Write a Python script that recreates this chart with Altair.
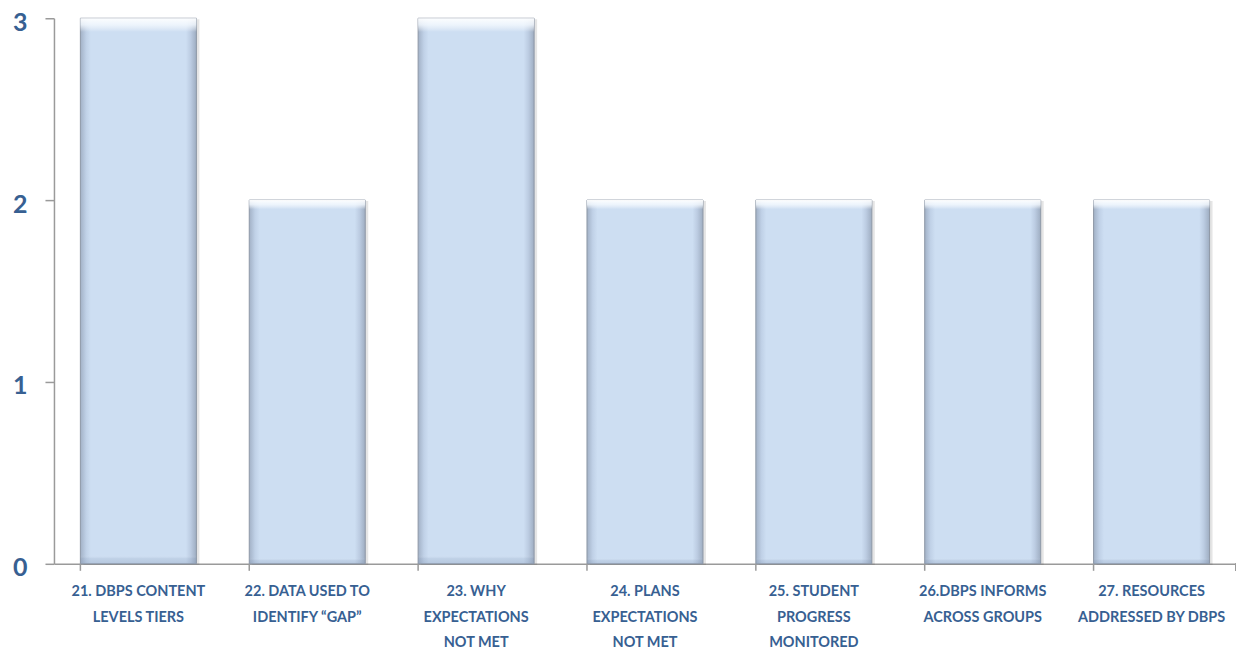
import altair as alt
import pandas as pd

categories = [
    "21.  DBPS CONTENT|LEVELS TIERS",
    "22. DATA USED TO|IDENTIFY \u201cGAP\u201d",
    "23. WHY|EXPECTATIONS|NOT MET",
    "24. PLANS|EXPECTATIONS|NOT MET",
    "25. STUDENT|PROGRESS|MONITORED",
    "26.DBPS INFORMS|ACROSS GROUPS",
    "27. RESOURCES|ADDRESSED BY DBPS",
]
values = [3, 2, 3, 2, 2, 2, 2]
y_ticks = [0, 1, 2, 3]

df = pd.DataFrame({"cat": categories, "val": values})

W, H = 1183, 546
TEXT = "#376092"
AX = "#9a9a9a"
FONT = "Lato"

xscale = alt.Scale(paddingInner=0.313, paddingOuter=0.1565)
yscale = alt.Scale(domain=[0, 3], nice=False)

x_enc = alt.X("cat:N", sort=None, scale=xscale, title=None,
              axis=alt.Axis(labelExpr="split(datum.label, '|')", labelAngle=0,
                            labelFont=FONT, labelFontSize=14.5, labelFontWeight="bold",
                            labelColor=TEXT, labelLineHeight=25.5, labelPadding=21,
                            labelBaseline="top", labelLimit=250, labelOverlap=False,
                            ticks=False, domainColor=AX, domainWidth=1.5))
y_enc = alt.Y("val:Q", scale=yscale, title=None,
              axis=alt.Axis(values=y_ticks, format="d", grid=False,
                            labelFont=FONT, labelFontSize=25, labelFontWeight="bold",
                            labelColor=TEXT, labelPadding=18, tickSize=9, labelOffset=4,
                            tickColor=AX, tickWidth=1.5, domainColor=AX, domainWidth=1.5))

side_grad = alt.Gradient(
    gradient="linear", x1=0, x2=1, y1=0, y2=0,
    stops=[alt.GradientStop(offset=0, color="#a2b1c6"),
           alt.GradientStop(offset=0.05, color="#c0d1e7"),
           alt.GradientStop(offset=0.09, color="#cddef2"),
           alt.GradientStop(offset=0.91, color="#cddef2"),
           alt.GradientStop(offset=0.95, color="#bccce2"),
           alt.GradientStop(offset=1, color="#9eadc1")])

top_grad = alt.Gradient(
    gradient="linear", x1=0, x2=0, y1=0, y2=1,
    stops=[alt.GradientStop(offset=0, color="rgba(255,255,255,0.95)"),
           alt.GradientStop(offset=0.012, color="rgba(245,250,255,0.8)"),
           alt.GradientStop(offset=0.025, color="rgba(255,255,255,0)"),
           alt.GradientStop(offset=0.984, color="rgba(255,255,255,0)"),
           alt.GradientStop(offset=0.99, color="rgba(120,140,170,0.15)"),
           alt.GradientStop(offset=1, color="rgba(120,140,170,0.28)")])

base = alt.Chart(df)

shadow = base.mark_bar(color="#000000", opacity=0.10, xOffset=3, yOffset=1).encode(x=x_enc, y=y_enc)
bars = base.mark_bar(color=side_grad, stroke="#8e98a6", strokeWidth=1).encode(x=x_enc, y=y_enc)
bevel = base.mark_bar(color=top_grad).encode(x=x_enc, y=y_enc)

ticks = base.mark_rule(color=AX, strokeWidth=1.5).encode(
    x=alt.X("cat:N", sort=None, scale=xscale, bandPosition=0),
    y=alt.value(H), y2=alt.value(H + 7))
end_tick = base.mark_rule(color=AX, strokeWidth=1.5).encode(
    x=alt.value(W), y=alt.value(H), y2=alt.value(H + 7))

chart = alt.layer(shadow, bars, bevel, ticks, end_tick).properties(
    width=W, height=H,
    background="white",
    autosize=alt.AutoSizeParams(type="none"),
    padding={"left": 46, "top": 10, "right": 0, "bottom": 88},
).configure_view(stroke=None)

chart.save("out.html", embed_options={"renderer": "svg", "actions": False})
